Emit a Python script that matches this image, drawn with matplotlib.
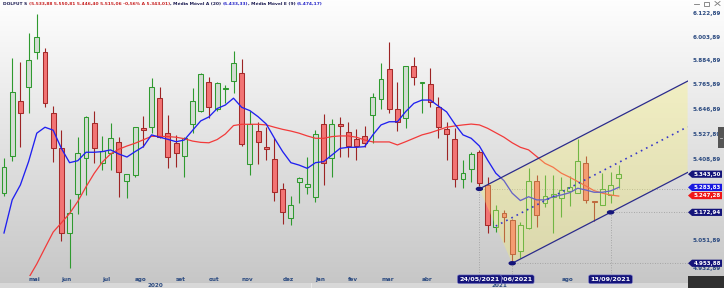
import numpy as np
import matplotlib
matplotlib.use("Agg")
import matplotlib.pyplot as plt
import matplotlib.patches as mpatches

# weekly candles DOLFUT, 13/04/2020 .. 20/09/2021
opens = [5258, 5427, 5687, 5756, 5930, 5928, 5630, 5462, 5082, 5254,
         5416, 5583, 5396, 5439, 5493, 5313, 5340, 5556, 5564, 5702,
         5533, 5488, 5427, 5576, 5638, 5778, 5647, 5743, 5784, 5822,
         5389, 5545, 5470, 5412, 5275, 5147, 5307, 5284, 5240, 5575,
         5419, 5576, 5540, 5504, 5521, 5619, 5695, 5842, 5647, 5603,
         5858, 5773, 5768, 5656, 5551, 5504, 5320, 5366, 5447, 5295,
         5111, 5172, 5140, 5007, 5103, 5314, 5213, 5240, 5235, 5268,
         5260, 5396, 5222, 5206, 5250, 5328]
highs = [5418, 5900, 5877, 6026, 6123, 5947, 5664, 5548, 5231, 5514,
         5616, 5640, 5520, 5580, 5517, 5343, 5564, 5616, 5797, 5756,
         5619, 5525, 5517, 5748, 5822, 5805, 5781, 5765, 5932, 5892,
         5640, 5587, 5564, 5509, 5305, 5247, 5332, 5421, 5548, 5623,
         5599, 5608, 5587, 5551, 5568, 5725, 5875, 5980, 5781, 5858,
         5905, 5779, 5847, 5707, 5587, 5556, 5408, 5447, 5455, 5332,
         5206, 5184, 5145, 5132, 5370, 5340, 5340, 5340, 5330, 5335,
         5506, 5427, 5222, 5349, 5353, 5385]
lows = [5245, 5405, 5470, 5629, 5892, 5659, 5401, 5050, 4933, 5166,
        5250, 5395, 5363, 5363, 5242, 5235, 5332, 5470, 5533, 5509,
        5370, 5378, 5330, 5533, 5635, 5603, 5640, 5675, 5725, 5473,
        5340, 5390, 5408, 5225, 5122, 5118, 5216, 5254, 5220, 5295,
        5332, 5424, 5424, 5408, 5470, 5488, 5647, 5627, 5545, 5556,
        5764, 5630, 5656, 5509, 5408, 5287, 5280, 5310, 5290, 5082,
        5089, 5046, 4954, 4975, 5100, 5111, 5198, 5082, 5151, 5201,
        5258, 5213, 5137, 5204, 5213, 5280]
closes = [5378, 5732, 5630, 5888, 6003, 5675, 5465, 5084, 5172, 5439,
          5608, 5464, 5450, 5509, 5355, 5343, 5564, 5548, 5753, 5514,
          5424, 5442, 5509, 5686, 5818, 5659, 5773, 5748, 5872, 5482,
          5575, 5493, 5459, 5265, 5173, 5206, 5325, 5298, 5528, 5393,
          5575, 5567, 5473, 5473, 5486, 5704, 5792, 5647, 5587, 5858,
          5805, 5779, 5683, 5561, 5527, 5320, 5350, 5435, 5302, 5118,
          5184, 5154, 4993, 5118, 5314, 5161, 5245, 5254, 5272, 5284,
          5405, 5228, 5219, 5275, 5295, 5343]

ema9 = [5083, 5228, 5295, 5401, 5533, 5561, 5547, 5462, 5396, 5405,
        5444, 5444, 5447, 5455, 5436, 5422, 5447, 5470, 5525, 5514,
        5504, 5493, 5501, 5546, 5591, 5610, 5650, 5667, 5700, 5656,
        5640, 5611, 5576, 5509, 5447, 5396, 5385, 5370, 5396, 5401,
        5431, 5462, 5467, 5467, 5470, 5525, 5572, 5587, 5587, 5635,
        5675, 5691, 5691, 5662, 5634, 5576, 5525, 5509, 5473, 5408,
        5348, 5314, 5258, 5225, 5242, 5228, 5228, 5242, 5250, 5260,
        5280, 5272, 5262, 5262, 5268, 5284]
sma20 = [np.nan, np.nan, np.nan, 4892, 4951, 5019, 5087, 5127, 5168, 5221,
         5286, 5347, 5399, 5436, 5458, 5473, 5486, 5502, 5518, 5518,
         5517, 5514, 5507, 5496, 5490, 5488, 5503, 5529, 5569, 5575,
         5575, 5575, 5572, 5561, 5551, 5543, 5533, 5520, 5509, 5509,
         5517, 5520, 5520, 5514, 5501, 5492, 5492, 5492, 5478, 5493,
         5509, 5525, 5535, 5548, 5561, 5567, 5572, 5576, 5572, 5556,
         5535, 5514, 5488, 5467, 5455, 5424, 5393, 5375, 5348, 5330,
         5310, 5290, 5269, 5258, 5250, 5245]

# month labels visible in the reference (others sit under the date boxes)
month_labels = ["mai", "jun", "jul", "ago", "set", "out", "nov", "dez", "jan",
                "fev", "mar", "abr", "ago"]
month_idx = [3, 7, 12, 16, 21, 25, 29, 34, 38, 42, 46, 51, 68]
year_labels = ["2020", "2021"]
year_split = 37.5

price_ticks = [6122.89, 6003.89, 5884.89, 5765.89, 5646.89, 5527.89,
               5408.89, 5289.89, 5170.89, 5051.89, 4932.89]

channel_idx = [58, 62, 74]
channel_price = [5277.0, 4953.88, 5172.94]
channel_end = 83.4

flag_values = [5343.50, 5283.83, 5247.28, 5172.94, 4953.88]
flag_colors = ["#14147a", "#1818e0", "#f01818", "#14147a", "#14147a"]

date_idx = [62, 58, 74]
date_text = ["21/06/2021", "24/05/2021", "13/09/2021"]

W, H = 724, 288
NAVY = "#14147a"
LBL = "#2b4a80"


def brl(v):
    s = f"{v:,.2f}"
    return s.replace(",", "X").replace(".", ",").replace("X", ".")


fig = plt.figure(figsize=(W / 100, H / 100), dpi=100)

# gradient background
bg = fig.add_axes([0, 0, 1, 1], zorder=0)
g = np.linspace(254, 198, H)[:, None] * np.ones((1, W))
bg.imshow(np.dstack([g, g, g]) / 255, aspect="auto", extent=[0, W, H, 0])
bg.set_xlim(0, W)
bg.set_ylim(H, 0)
bg.axis("off")

ax = fig.add_axes([0, 12 / H, 688 / W, 266 / H], zorder=1)
ax.set_facecolor("none")
ax.set_yscale("log")
ax.set_ylim(4900.5, 6143.7)
ax.set_xlim(-0.488, 83.45)
ax.axis("off")

x = np.arange(len(opens))
o = np.array(opens, float)
c = np.array(closes, float)
up = c >= o

wick_col = np.where(up, "#2f9a2f", "#9c2424")
ax.vlines(x, lows, highs, colors=wick_col, lw=0.8, zorder=2)
bottoms = np.minimum(o, c)
heights = np.maximum(np.abs(c - o), 1.0)
ax.bar(x[up], heights[up], bottom=bottoms[up], width=0.6,
       color="#d3dcd3", edgecolor="#2f9a2f", lw=0.75, zorder=3)
ax.bar(x[~up], heights[~up], bottom=bottoms[~up], width=0.6,
       color="#f27474", edgecolor="#a52a2a", lw=0.75, zorder=3)

ax.plot(x, sma20, color="#f23a3a", lw=0.9, zorder=4)
ax.plot(x, ema9, color="#2020f0", lw=0.95, zorder=4)

# channel
i1, i2, i3 = channel_idx
p1, p2, p3 = channel_price
s = np.log(p3 / p2) / (i3 - i2)
up_end = p1 * np.exp(s * (channel_end - i1))
lo_end = p2 * np.exp(s * (channel_end - i2))
mid_i = (i1 + i2) / 2
mid_p = np.sqrt(p1 * p2)
mid_end = mid_p * np.exp(s * (channel_end - mid_i))

for ci, cp in zip(channel_idx, channel_price):
    ax.plot([ci, ci], [cp, 4900.5], color="#9a9a9a", lw=0.6, ls=(0, (1, 2)), zorder=1)
    ax.plot([ci, 83.45], [cp, cp], color="#9a9a9a", lw=0.6, ls=(0, (1, 2)), zorder=1)

poly = mpatches.Polygon([(i1, p1), (channel_end, up_end), (channel_end, lo_end), (i2, p2)],
                        closed=True, facecolor="#faf26e", alpha=0.33, edgecolor="none", zorder=5)
ax.add_patch(poly)
ax.plot([i1, channel_end], [p1, up_end], color="#2b2b8c", lw=0.9, zorder=6)
ax.plot([i2, channel_end], [p2, lo_end], color="#2b2b8c", lw=0.9, zorder=6)
ax.plot([mid_i, channel_end], [mid_p, mid_end], color="#3838c8", lw=1.2,
        ls=(0, (1, 2.5)), zorder=6)

ov = fig.add_axes([0, 0, 1, 1], zorder=2)
ov.set_xlim(0, W)
ov.set_ylim(H, 0)
ov.axis("off")


def py(p):
    return H - ax.transData.transform((0, p))[1]


def px(i):
    return ax.transData.transform((i, 5000))[0]


for ci, cp in zip(channel_idx, channel_price):
    ov.add_patch(mpatches.Ellipse((px(ci), py(cp)), 6, 3, color=NAVY, zorder=5))

# right price labels
for p in price_ticks:
    ov.text(707, py(p), brl(p), ha="center", va="center", fontsize=4.1,
            fontweight="bold", color=LBL)

for v, col in zip(flag_values, flag_colors):
    yy = py(v)
    ov.add_patch(mpatches.Polygon([(688, yy), (692, yy - 3.6), (722, yy - 3.6),
                                   (722, yy + 3.6), (692, yy + 3.6)],
                                  closed=True, facecolor=col, edgecolor="none", zorder=6))
    ov.text(707, yy, brl(v), ha="center", va="center", fontsize=4.0,
            fontweight="bold", color="white", zorder=7)

# bottom axis
ov.add_patch(mpatches.Rectangle((0, 282.5), 688, 6, facecolor="#d8d8d8", edgecolor="none"))
ov.plot([px(year_split), px(year_split)], [282.5, 288], color="#ececec", lw=0.6)
for lab, mi in zip(month_labels, month_idx):
    ov.text(px(mi), 279.2, lab, ha="left", va="center", fontsize=4.1,
            fontweight="bold", color=LBL)
ov.text(px(year_split) / 2, 285.3, year_labels[0], ha="center", va="center",
        fontsize=4.1, fontweight="bold", color=LBL)
ov.text((px(year_split) + 688) / 2, 285.3, year_labels[1], ha="center", va="center",
        fontsize=4.1, fontweight="bold", color=LBL)

for di, dt in zip(date_idx, date_text):
    ov.text(px(di), 279.3, dt, ha="center", va="center", fontsize=4.6,
            fontweight="bold", color="white", zorder=8,
            bbox=dict(boxstyle="round,pad=0.3", fc=NAVY, ec="#8a8ad0", lw=0.4))

ov.add_patch(mpatches.Rectangle((688, 276), 36, 12, facecolor="#303030", edgecolor="none", zorder=9))
ov.add_patch(mpatches.Rectangle((717.5, 127), 6.5, 21, facecolor="#555555", edgecolor="none", zorder=9))
ov.plot([719.5, 722], [137.5, 137.5], color="#bbbbbb", lw=0.6, zorder=10)

# window buttons
ov.plot([694, 699], [3.5, 3.5], color="#777777", lw=0.6)
ov.add_patch(mpatches.Rectangle((704, 1.5), 5, 4, facecolor="none", edgecolor="#777777", lw=0.6))
ov.plot([715, 720], [1.5, 5.5], color="#777777", lw=0.6)
ov.plot([715, 720], [5.5, 1.5], color="#777777", lw=0.6)

# header
header = [("DOLFUT S ", "#1a1a50"),
          ("(5.533,88 5.550,81 5.446,40 5.515,06 -0,56% A 5.343,01)", "#c82020"),
          (", Média Móvel A (20) ", "#1a1a50"),
          ("(5.433,33)", "#2424c8"),
          (", Média Móvel E (9) ", "#1a1a50"),
          ("(5.474,17)", "#2424c8")]
r = fig.canvas.get_renderer()
xpos = 3
for txt, col in header:
    t = ov.text(xpos, 4.2, txt, ha="left", va="center", fontsize=3.15,
                fontweight="bold", color=col)
    bb = t.get_window_extent(renderer=r)
    xpos += bb.width

fig.savefig("out.png", dpi=100)
